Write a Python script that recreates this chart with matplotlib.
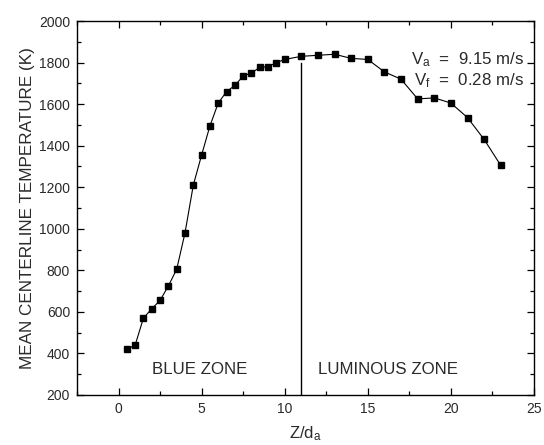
import matplotlib
matplotlib.use("Agg")
import matplotlib.pyplot as plt
from matplotlib.ticker import MultipleLocator

plt.rcParams['font.family'] = ['Liberation Sans', 'DejaVu Sans']
plt.rcParams['mathtext.fontset'] = 'custom'
plt.rcParams['mathtext.rm'] = 'Liberation Sans'
plt.rcParams['mathtext.default'] = 'regular'

# Z/d_a positions and mean centerline temperature (K)
z_over_d = [0.5, 1.0, 1.5, 2.0, 2.5, 3.0, 3.5, 4.0, 4.5, 5.0, 5.5, 6.0, 6.5, 7.0,
            7.5, 8.0, 8.5, 9.0, 9.5, 10.0, 11.0, 12.0, 13.0, 14.0, 15.0, 16.0,
            17.0, 18.0, 19.0, 20.0, 21.0, 22.0, 23.0]
temperature = [420, 440, 570, 615, 655, 725, 805, 980, 1210, 1355, 1495, 1605, 1660,
               1690, 1735, 1750, 1777, 1780, 1800, 1815, 1830, 1835, 1840, 1820, 1815,
               1755, 1720, 1625, 1630, 1605, 1535, 1430, 1305]

zone_boundary = 11.0
boundary_top = 1800

txt = '#2a2a2a'

fig = plt.figure(figsize=(5.44, 4.45), dpi=100)
ax = fig.add_axes([0.1415, 0.1124, 0.8401, 0.8404])

ax.plot(z_over_d, temperature, color='black', linewidth=0.8,
        marker='s', markersize=5, markerfacecolor='black', markeredgecolor='black')
ax.plot([zone_boundary, zone_boundary], [200, boundary_top], color='black', linewidth=1.0)

ax.set_xlim(-2.5, 25)
ax.set_ylim(200, 2000)
ax.xaxis.set_major_locator(MultipleLocator(5))
ax.xaxis.set_minor_locator(MultipleLocator(2.5))
ax.yaxis.set_major_locator(MultipleLocator(200))
ax.yaxis.set_minor_locator(MultipleLocator(100))
ax.tick_params(which='both', direction='in', top=True, right=True, labelsize=10,
               colors='black', labelcolor=txt)
ax.tick_params(which='major', length=5, width=0.9, pad=5)
ax.tick_params(which='minor', length=3, width=0.9)
for sp in ax.spines.values():
    sp.set_linewidth(1.0)

ax.set_xlabel("Z/d$_a$", fontsize=12, color=txt, labelpad=6)
ax.set_ylabel("MEAN CENTERLINE TEMPERATURE (K)", fontsize=12.3, color=txt, labelpad=3)

ax.text(4.9, 325, "BLUE ZONE", fontsize=12.2, ha='center', va='center', color=txt)
ax.text(16.2, 325, "LUMINOUS ZONE", fontsize=12.2, ha='center', va='center', color=txt)
ax.text(24.4, 1815, "V$_a$  =  9.15 m/s", fontsize=12.2, ha='right', va='center', color=txt)
ax.text(24.4, 1711, "V$_f$  =  0.28 m/s", fontsize=12.2, ha='right', va='center', color=txt)

fig.savefig("out.png", dpi=100)
